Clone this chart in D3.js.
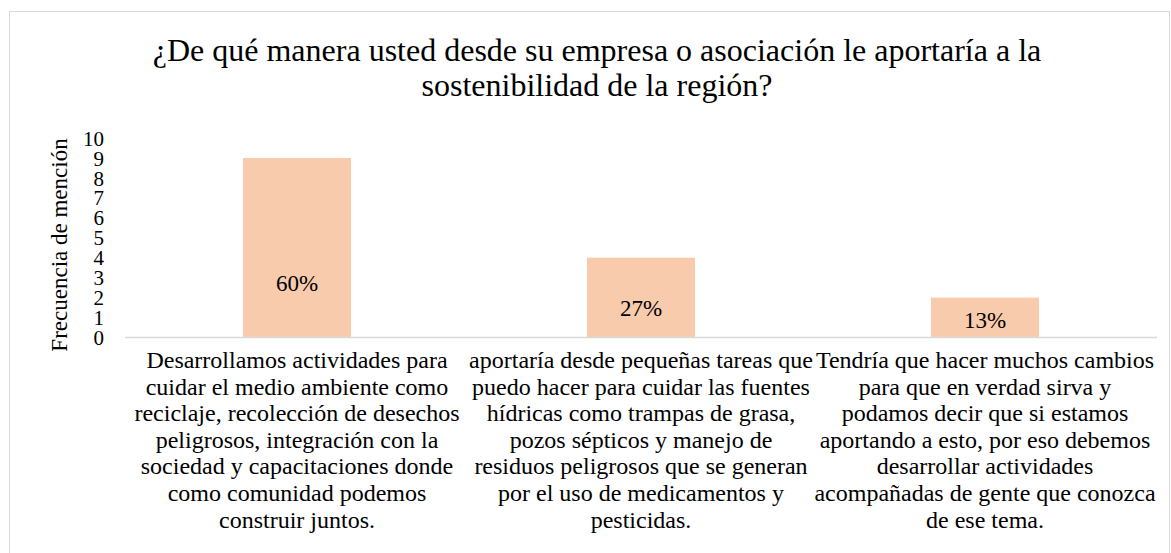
<!DOCTYPE html>
<html>
<head>
<meta charset="utf-8">
<script src="https://cdn.jsdelivr.net/npm/d3@7"></script>
</head>
<body style="margin:0">
<svg width="1171" height="553"></svg>
<script>
// chart data
var categories = [
    ["Desarrollamos actividades para", "cuidar el medio ambiente como", "reciclaje, recolección de desechos",
     "peligrosos, integración con la", "sociedad y capacitaciones donde", "como comunidad podemos", "construir juntos."],
    ["aportaría desde pequeñas tareas que", "puedo hacer para cuidar las fuentes", "hídricas como trampas de grasa,",
     "pozos sépticos y manejo de", "residuos peligrosos que se generan", "por el uso de medicamentos y", "pesticidas."],
    ["Tendría que hacer muchos cambios", "para que en verdad sirva y", "podamos decir que si estamos",
     "aportando a esto, por eso debemos", "desarrollar actividades", "acompañadas de gente que conozca", "de ese tema."]
];
var values = [9, 4, 2];
var percents = ["60%", "27%", "13%"];
var yTicks = [0, 1, 2, 3, 4, 5, 6, 7, 8, 9, 10];
var titleLines = ["¿De qué manera usted desde su empresa o asociación le aportaría a la",
                  "sostenibilidad de la región?"];

var serif = "Liberation Serif";

var svg = d3.select("svg"),
    width = +svg.attr("width"),
    height = +svg.attr("height");

// outer frame
svg.append("rect")
    .attr("x", 9.5).attr("y", 11.5)
    .attr("width", 1160).attr("height", 560)
    .attr("fill", "none")
    .attr("stroke", "#d9d9d9");

var x = d3.scaleBand()
    .domain(d3.range(values.length))
    .range([125, 1157])
    .paddingInner(0.686)
    .paddingOuter(0.343);

var y = d3.scaleLinear()
    .domain([0, 10])
    .range([337.5, 138]);

// title
svg.append("text")
    .style("font-family", serif)
    .attr("text-anchor", "middle")
    .attr("font-size", "32px")
    .selectAll("tspan")
    .data(titleLines)
    .enter().append("tspan")
    .attr("x", 597)
    .attr("y", function (d, i) { return 61 + i * 35; })
    .text(function (d) { return d; });

// bars
svg.append("g").selectAll("rect")
    .data(values)
    .enter().append("rect")
    .attr("x", function (d, i) { return x(i); })
    .attr("y", function (d) { return y(d); })
    .attr("width", x.bandwidth())
    .attr("height", function (d) { return y(0) - y(d); })
    .attr("fill", "#f8cbad");

// y axis (labels only)
var yAxis = svg.append("g")
    .attr("transform", "translate(104,0)")
    .call(d3.axisLeft(y).tickValues(yTicks).tickSize(0).tickPadding(0));
yAxis.attr("font-family", null);
yAxis.select(".domain").remove();
yAxis.selectAll("text")
    .style("font-family", serif)
    .attr("font-size", "21px")
    .attr("fill", "#000")
    .attr("dy", "0.34em");

// baseline
svg.append("line")
    .attr("x1", 125).attr("x2", 1157)
    .attr("y1", y(0)).attr("y2", y(0))
    .attr("stroke", "#d9d9d9")
    .attr("stroke-width", 1.5);

// percentage labels
var labelAt = [2.75, 1.5, 0.9];
svg.append("g").selectAll("text")
    .data(percents)
    .enter().append("text")
    .style("font-family", serif)
    .attr("x", function (d, i) { return x(i) + x.bandwidth() / 2; })
    .attr("y", function (d, i) { return y(labelAt[i]); })
    .attr("dy", "0.35em")
    .attr("text-anchor", "middle")
    .attr("font-size", "23px")
    .text(function (d) { return d; });

// category labels
var cat = svg.append("g").selectAll("text")
    .data(categories)
    .enter().append("text")
    .style("font-family", serif)
    .attr("text-anchor", "middle")
    .attr("font-size", "24px");
cat.selectAll("tspan")
    .data(function (d, i) { return d.map(function (s) { return { s: s, i: i }; }); })
    .enter().append("tspan")
    .attr("x", function (d) { return x(d.i) + x.bandwidth() / 2; })
    .attr("y", function (d, j) { return 368 + j * 26.6; })
    .text(function (d) { return d.s; });

// y axis title
svg.append("text")
    .style("font-family", serif)
    .attr("transform", "translate(67,245) rotate(-90)")
    .attr("text-anchor", "middle")
    .attr("font-size", "23px")
    .text("Frecuencia de mención");
</script>
</body>
</html>
